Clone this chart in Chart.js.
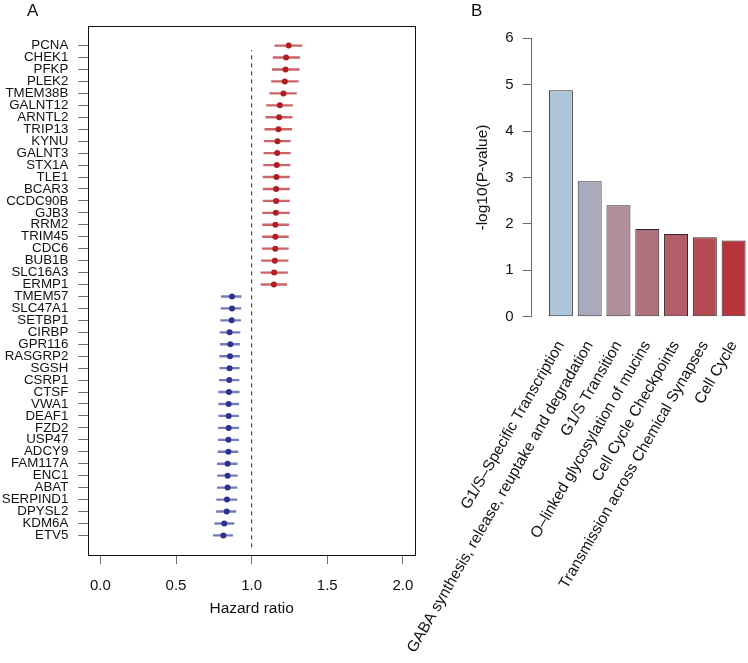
<!DOCTYPE html>
<html>
<head>
<meta charset="utf-8">
<script src="https://cdn.jsdelivr.net/npm/chart.js@4/dist/chart.umd.min.js"></script>
<style>
  html, body { margin: 0; padding: 0; background: #fff; }
  #wrap { position: relative; width: 748px; height: 663px; overflow: hidden; background: #fff; }
  canvas { position: absolute; top: 0; }
  .panel { position: absolute; font-family: "Liberation Sans", Arial, sans-serif; font-size: 17px; color: #111; line-height: 1; }
</style>
</head>
<body>
<div id="wrap">
  <canvas id="forest" width="440" height="663" style="left:0px"></canvas>
  <canvas id="bars" width="378" height="663" style="left:370px"></canvas>
  <div class="panel" style="left:27px; top:2px;">A</div>
  <div class="panel" style="left:471px; top:2px;">B</div>
</div>
<script>
// ---------- Panel A data ----------
const genes = ["PCNA","CHEK1","PFKP","PLEK2","TMEM38B","GALNT12","ARNTL2","TRIP13","KYNU","GALNT3","STX1A","TLE1","BCAR3","CCDC90B","GJB3","RRM2","TRIM45","CDC6","BUB1B","SLC16A3","ERMP1","TMEM57","SLC47A1","SETBP1","CIRBP","GPR116","RASGRP2","SGSH","CSRP1","CTSF","VWA1","DEAF1","FZD2","USP47","ADCY9","FAM117A","ENC1","ABAT","SERPIND1","DPYSL2","KDM6A","ETV5"];
const hazardRatio = [1.245,1.228,1.224,1.219,1.210,1.186,1.182,1.177,1.171,1.169,1.166,1.164,1.162,1.162,1.160,1.157,1.157,1.156,1.153,1.149,1.147,0.870,0.870,0.868,0.854,0.859,0.857,0.854,0.852,0.850,0.848,0.848,0.848,0.846,0.846,0.841,0.841,0.841,0.837,0.835,0.819,0.813];
const ciLow = [1.153,1.142,1.136,1.131,1.120,1.098,1.094,1.087,1.083,1.081,1.079,1.076,1.076,1.076,1.072,1.072,1.072,1.070,1.065,1.061,1.061,0.800,0.797,0.795,0.791,0.793,0.789,0.789,0.786,0.782,0.782,0.782,0.780,0.780,0.778,0.773,0.775,0.773,0.769,0.767,0.756,0.747];
const ciHigh = [1.333,1.318,1.314,1.309,1.296,1.270,1.267,1.265,1.256,1.256,1.254,1.250,1.250,1.250,1.250,1.245,1.243,1.243,1.241,1.237,1.232,0.931,0.929,0.927,0.923,0.920,0.920,0.918,0.916,0.918,0.914,0.914,0.914,0.914,0.909,0.905,0.905,0.903,0.903,0.896,0.883,0.874];
const hrTicks = [0, 0.5, 1.0, 1.5, 2.0];
const refHR = 1;

// ---------- Panel B data ----------
const pathways = ["G1/S\u2013Specific Transcription","GABA synthesis, release, reuptake and degradation","G1/S Transition","O\u2013linked glycosylation of mucins","Cell Cycle Checkpoints","Transmission across Chemical Synapses","Cell Cycle"];
const negLogP = [4.88, 2.92, 2.40, 1.89, 1.78, 1.71, 1.64];
const pTicks = [0, 1, 2, 3, 4, 5, 6];

// ---------- styles ----------
const FONT = '"Liberation Sans", Arial, Helvetica, sans-serif';
const TXT = '#111';
const AXC = '#6b6b6b';
const redDot = '#b01e23', redLine = 'rgba(184,40,44,0.72)';
const blueDot = '#2c3390', blueLine = 'rgba(52,60,150,0.68)';
const barColors = ['#adc7d9','#a9abbd','#ae8f9b','#b0717e','#b25d68','#b64a54','#b8333a'];

Chart.defaults.font.family = FONT;
Chart.defaults.color = TXT;

const n = genes.length;
const rowOf = i => n - i;

const boxPlugin = {
  id: 'box',
  afterDraw(chart) {
    const a = chart.chartArea, ctx = chart.ctx;
    ctx.save();
    ctx.strokeStyle = '#111';
    ctx.lineWidth = 1;
    ctx.strokeRect(Math.round(a.left) + 0.5, Math.round(a.top) + 0.5, Math.round(a.right - a.left), Math.round(a.bottom - a.top));
    ctx.restore();
  }
};

new Chart(document.getElementById('forest'), {
  type: 'scatter',
  data: {
    datasets: [
      {
        type: 'scatter',
        order: 0,
        data: genes.map((g, i) => ({ x: hazardRatio[i], y: rowOf(i) })),
        pointRadius: 3,
        pointHoverRadius: 3,
        pointBorderWidth: 0,
        pointBackgroundColor: hazardRatio.map(v => v > refHR ? redDot : blueDot),
        pointBorderColor: hazardRatio.map(v => v > refHR ? redDot : blueDot)
      },
      {
        type: 'bar',
        order: 1,
        indexAxis: 'y',
        data: genes.map((g, i) => ({ y: rowOf(i), x: [ciLow[i], ciHigh[i]] })),
        backgroundColor: hazardRatio.map(v => v > refHR ? redLine : blueLine),
        borderWidth: 0,
        barThickness: 1.7
      },
      {
        type: 'line',
        order: 2,
        data: [{ x: refHR, y: 0 }, { x: refHR, y: n - 0.4 }],
        borderColor: '#222',
        borderWidth: 1,
        borderDash: [4, 4],
        pointRadius: 0,
        fill: false
      }
    ]
  },
  options: {
    responsive: false,
    animation: false,
    devicePixelRatio: 1,
    layout: { padding: { top: 26, right: 25, left: 0, bottom: 0 } },
    plugins: { legend: { display: false }, tooltip: { enabled: false } },
    scales: {
      x: {
        type: 'linear',
        offset: false,
        min: -0.08, max: 2.08,
        afterBuildTicks: s => { s.ticks = hrTicks.map(v => ({ value: v })); },
        afterFit: s => { s.height = 108; },
        ticks: { callback: v => Number(v).toFixed(1), font: { size: 15 }, color: TXT, padding: 13, autoSkip: false, maxRotation: 0 },
        grid: { offset: false, drawOnChartArea: false, tickLength: 9, color: AXC, lineWidth: 1 },
        border: { display: false },
        title: { display: true, text: 'Hazard ratio', font: { size: 15.5 }, color: TXT, padding: { top: 0, bottom: 45 } }
      },
      y: {
        type: 'linear',
        offset: false,
        min: -0.64, max: n + 1.64,
        afterBuildTicks: s => { s.ticks = genes.map((g, i) => ({ value: rowOf(i) })); },
        afterFit: s => { s.width = 88.3; },
        ticks: { callback: v => genes[n - v], font: { size: 13.3 }, color: TXT, padding: 10, autoSkip: false },
        grid: { offset: false, drawOnChartArea: false, tickLength: 10, color: AXC, lineWidth: 1 },
        border: { display: false }
      }
    }
  },
  plugins: [boxPlugin]
});

new Chart(document.getElementById('bars'), {
  type: 'bar',
  data: {
    datasets: [{
      data: negLogP.map((v, i) => ({ x: i, y: v })),
      backgroundColor: barColors,
      borderColor: '#2a2a2a',
      borderWidth: 1,
      borderSkipped: false,
      barPercentage: 0.833,
      categoryPercentage: 1
    }]
  },
  options: {
    responsive: false,
    animation: false,
    devicePixelRatio: 1,
    layout: { padding: { top: 38.3, right: 0, left: 100, bottom: 0 } },
    plugins: { legend: { display: false }, tooltip: { enabled: false } },
    scales: {
      x: {
        type: 'linear',
        offset: false,
        min: -1.014, max: 6.5,
        afterBuildTicks: s => { s.ticks = pathways.map((p, i) => ({ value: i })); },
        afterFit: s => { s.height = 663 - 38.3 - 278.4; s.paddingLeft = 0; s.paddingRight = 0; },
        ticks: { callback: v => pathways[v], font: { size: 15.5 }, color: TXT, padding: 21, autoSkip: false, minRotation: 60, maxRotation: 60 },
        grid: { offset: false, display: false, drawTicks: false },
        border: { display: false }
      },
      y: {
        type: 'linear',
        min: 0, max: 6,
        afterBuildTicks: s => { s.ticks = pTicks.map(v => ({ value: v })); },
        afterFit: s => { s.width = 61.7; s.paddingTop = 0; s.paddingBottom = 0; },
        ticks: { font: { size: 15 }, color: TXT, padding: 9 },
        grid: { drawOnChartArea: false, tickLength: 9, color: AXC, lineWidth: 1 },
        border: { display: true, color: AXC, width: 1 },
        title: { display: true, text: '-log10(P-value)', font: { size: 15.5 }, color: TXT, padding: { top: 3.5, bottom: 0 } }
      }
    }
  }
});
</script>
</body>
</html>
